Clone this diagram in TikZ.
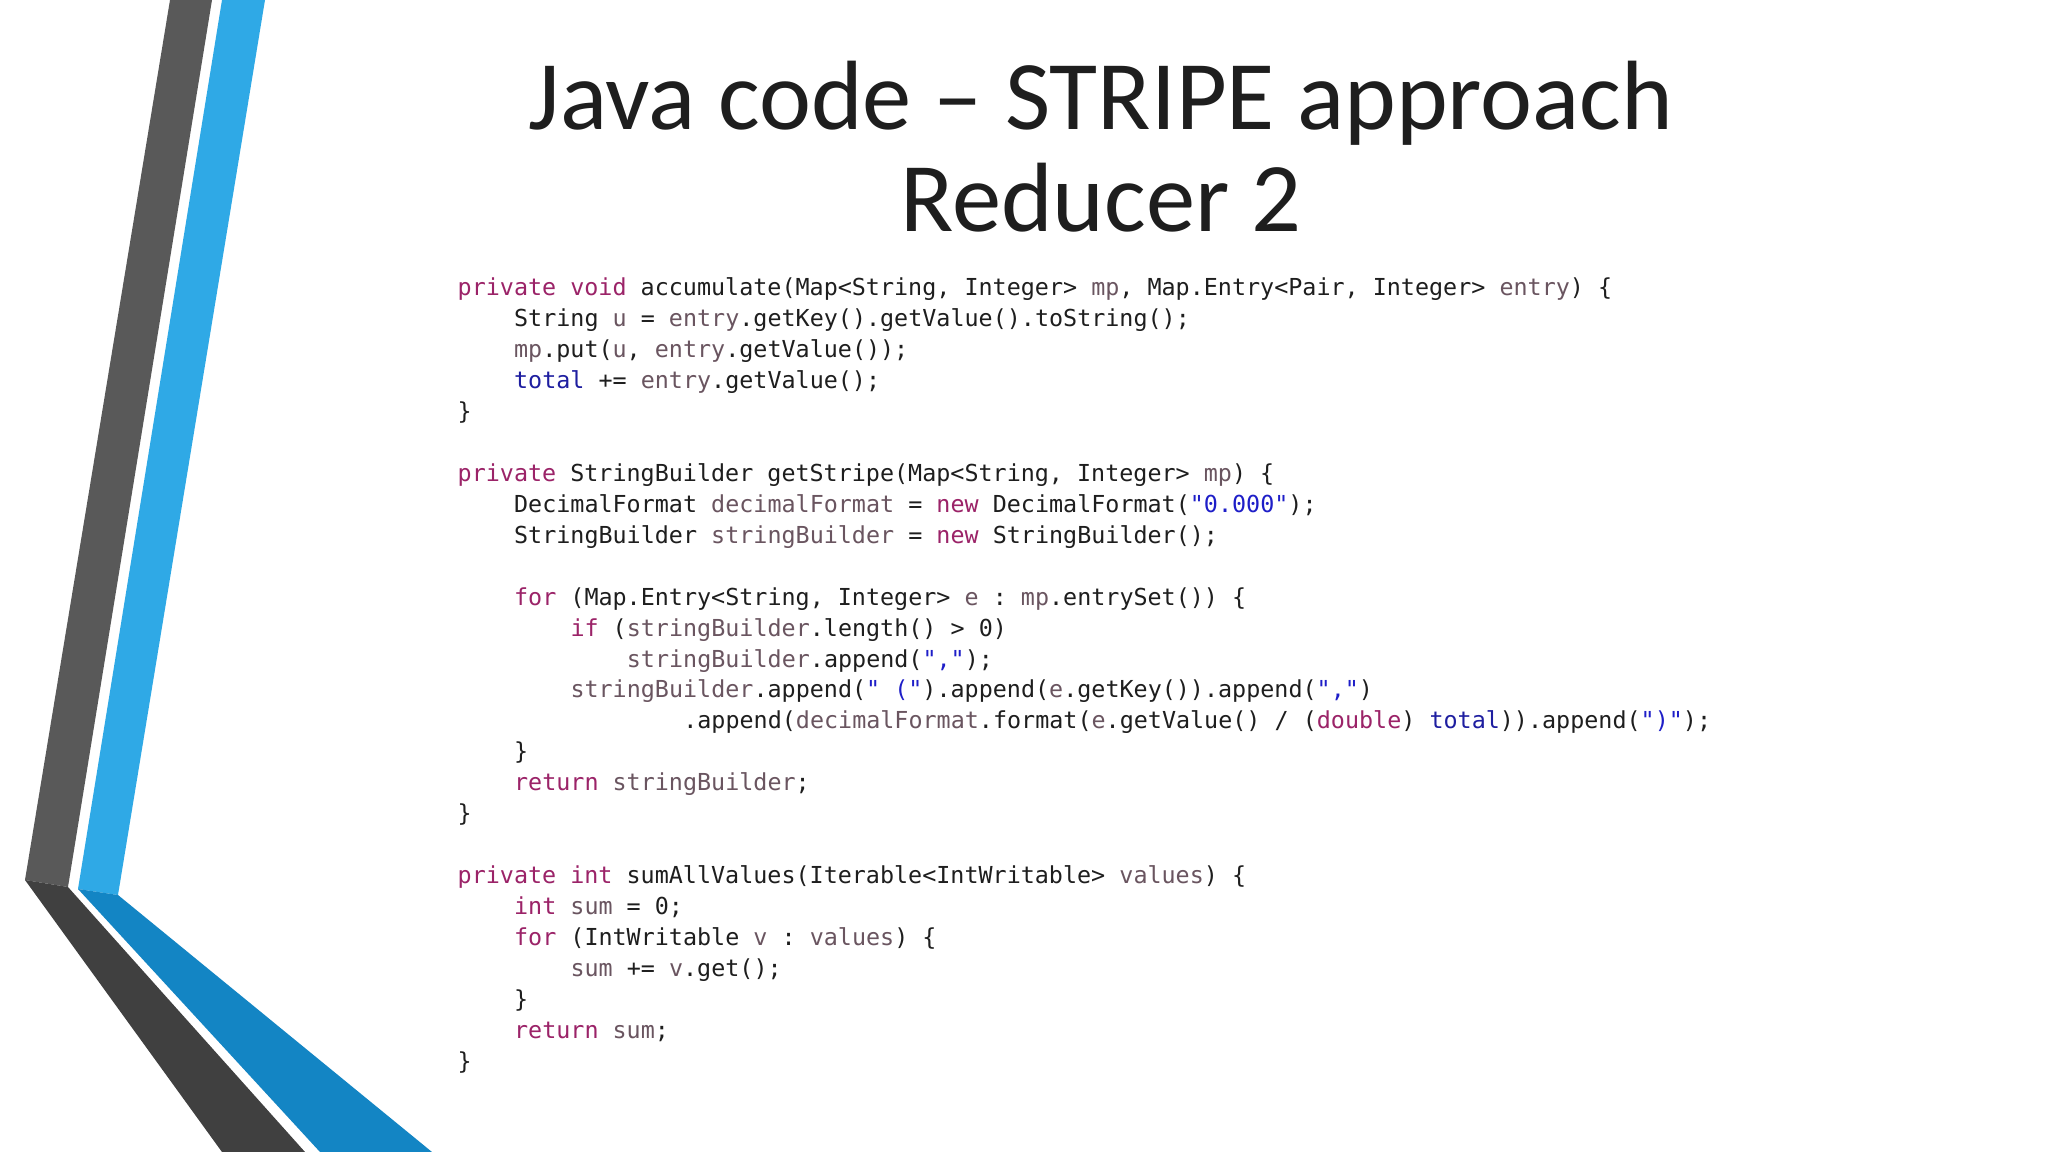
\documentclass[tikz,border=0pt]{standalone}
\usepackage{fontspec}
\setmainfont{Carlito}
\setmonofont{DejaVu Sans Mono}
\definecolor{grayA}{HTML}{595959}
\definecolor{grayB}{HTML}{404040}
\definecolor{blueA}{HTML}{2FA9E6}
\definecolor{blueB}{HTML}{1385C4}
\definecolor{kwc}{HTML}{9B2368}
\definecolor{vrc}{HTML}{6A5560}
\definecolor{fdc}{HTML}{1E1EA0}
\definecolor{stc}{HTML}{1E1EC8}
\definecolor{txc}{HTML}{1E1E1E}
\newcommand\kwd[1]{\textcolor{kwc}{#1}}
\newcommand\vrb[1]{\textcolor{vrc}{#1}}
\newcommand\fld[1]{\textcolor{fdc}{#1}}
\newcommand\strl[1]{\textcolor{stc}{#1}}
\newcommand\codeline[3]{\node[codestyle] (c#1) at ({457+14.1*#2},{296+30.92*#1}) {#3};}
\tikzset{codestyle/.style={anchor=base west,inner sep=0pt,text=txc,font=\ttfamily\fontsize{6.65pt}{8pt}\selectfont},
titlestyle/.style={anchor=base,inner sep=0pt,text=txc,font=\fontsize{28pt}{32pt}\selectfont}}
\begin{document}
\begin{tikzpicture}[x=0.01cm,y=-0.01cm]
\useasboundingbox (0,0) rectangle (2048,1152);
\fill[white] (0,0) rectangle (2048,1152);
% decoration
\fill[grayA] (170,0) -- (212,0) -- (68,887) -- (25,880) -- cycle;
\fill[grayB] (25,880) -- (68,887) -- (305,1152) -- (222,1152) -- cycle;
\fill[blueA] (222,0) -- (265,0) -- (118,895) -- (78,889) -- cycle;
\fill[blueB] (78,889) -- (118,895) -- (432,1152) -- (320,1152) -- cycle;
% title
\node[titlestyle] (t1) at (1101,130) {Java code – STRIPE approach};
\node[titlestyle] (t2) at (1101,232) {Reducer 2};
% code
\codeline{0}{0}{\kwd{private void} accumulate(Map<String, Integer> \vrb{mp}, Map.Entry<Pair, Integer> \vrb{entry}) \{}
\codeline{1}{4}{String \vrb{u} = \vrb{entry}.getKey().getValue().toString();}
\codeline{2}{4}{\vrb{mp}.put(\vrb{u}, \vrb{entry}.getValue());}
\codeline{3}{4}{\fld{total} += \vrb{entry}.getValue();}
\codeline{4}{0}{\}}
\codeline{6}{0}{\kwd{private} StringBuilder getStripe(Map<String, Integer> \vrb{mp}) \{}
\codeline{7}{4}{DecimalFormat \vrb{decimalFormat} = \kwd{new} DecimalFormat(\strl{"0.000"});}
\codeline{8}{4}{StringBuilder \vrb{stringBuilder} = \kwd{new} StringBuilder();}
\codeline{10}{4}{\kwd{for} (Map.Entry<String, Integer> \vrb{e} : \vrb{mp}.entrySet()) \{}
\codeline{11}{8}{\kwd{if} (\vrb{stringBuilder}.length() > 0)}
\codeline{12}{12}{\vrb{stringBuilder}.append(\strl{","});}
\codeline{13}{8}{\vrb{stringBuilder}.append(\strl{" ("}).append(\vrb{e}.getKey()).append(\strl{","})}
\codeline{14}{16}{.append(\vrb{decimalFormat}.format(\vrb{e}.getValue() / (\kwd{double}) \fld{total})).append(\strl{")"});}
\codeline{15}{4}{\}}
\codeline{16}{4}{\kwd{return} \vrb{stringBuilder};}
\codeline{17}{0}{\}}
\codeline{19}{0}{\kwd{private int} sumAllValues(Iterable<IntWritable> \vrb{values}) \{}
\codeline{20}{4}{\kwd{int} \vrb{sum} = 0;}
\codeline{21}{4}{\kwd{for} (IntWritable \vrb{v} : \vrb{values}) \{}
\codeline{22}{8}{\vrb{sum} += \vrb{v}.get();}
\codeline{23}{4}{\}}
\codeline{24}{4}{\kwd{return} \vrb{sum};}
\codeline{25}{0}{\}}
\end{tikzpicture}
\end{document}
